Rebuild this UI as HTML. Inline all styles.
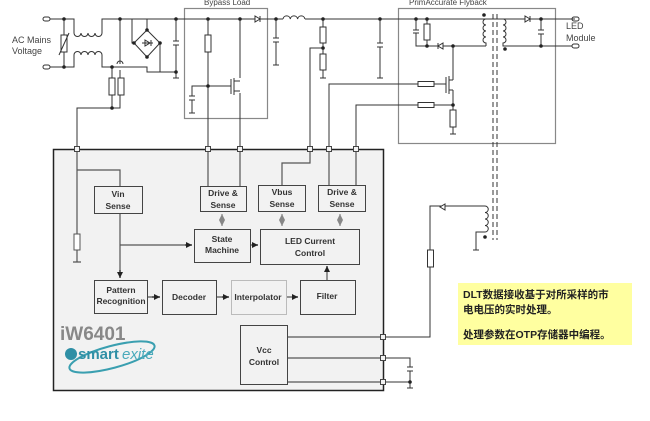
<!DOCTYPE html>
<html><head><meta charset="utf-8"><style>
html,body{margin:0;padding:0;background:#fff}
svg{display:block}
text{font-family:"Liberation Sans","Noto Sans CJK SC",sans-serif}
</style></head><body>
<svg width="650" height="421" viewBox="0 0 650 421" xmlns="http://www.w3.org/2000/svg">
<defs>
<marker id="a" markerWidth="6" markerHeight="6" refX="5" refY="3" orient="auto"><path d="M0,0.5 L5,3 L0,5.5z" fill="#222"/></marker>
<marker id="g" markerWidth="6" markerHeight="6" refX="5" refY="3" orient="auto"><path d="M0,0.5 L5,3 L0,5.5z" fill="#888"/></marker>
<marker id="gs" markerWidth="6" markerHeight="6" refX="1" refY="3" orient="auto"><path d="M6,0.5 L1,3 L6,5.5z" fill="#888"/></marker>
</defs>
<g fill="none" stroke="#333" stroke-width="1">
<rect x="184.5" y="8.5" width="83" height="110" stroke="#888" stroke-width="1.2"/>
<rect x="398.5" y="8.5" width="157" height="135" stroke="#888" stroke-width="1.2"/>
<path d="M50,19H74V33M102,33V19H176M50,67H74V55M102,55V67H147V72H176"/>
<path d="M64,19V67"/>
<rect x="61" y="35" width="6" height="17" fill="#fff"/>
<path d="M59,55L69,33"/>
<path d="M74,33a3.5,3.5 0 0 0 7,0a3.5,3.5 0 0 0 7,0a3.5,3.5 0 0 0 7,0a3.5,3.5 0 0 0 7,0"/>
<path d="M74,55a3.5,3.5 0 0 1 7,0a3.5,3.5 0 0 1 7,0a3.5,3.5 0 0 1 7,0a3.5,3.5 0 0 1 7,0"/>
<rect x="43" y="17" width="7" height="4" rx="2"/>
<rect x="43" y="65" width="7" height="4" rx="2"/>
<path d="M112,67V108H77V149M120,19V64M120,70V108H112"/>
<path d="M117,64a3,3 0 0 1 6,0" />
<rect x="109" y="78" width="6" height="17" fill="#fff"/>
<rect x="118" y="78" width="6" height="17" fill="#fff"/>
<path d="M147,19V30L160,43L147,57L134,43L147,30M132,19V43H134M160,43V72"/>
<path d="M142,43H153M145,40L150,43L145,46zM151,40V46"/>
<path d="M176,19V41M173,41H179M173,45H179M176,45V78M173,78H179"/>
<path d="M147,19H283M305,19H575"/>
<path d="M208,19V149M240,19V78M240,93V149M208,86H231M208,86H192V96M192,100V113M189,113H195M189,96H195M189,100H195"/>
<rect x="205" y="35" width="6" height="17" fill="#fff"/>
<path d="M231,79V94M234,78V95M234,81H240M234,91H240"/>
<path d="M255,16V22L260,19Z M260,16V22" fill="#fff"/>
<path d="M276,19V38M273,38H279M273,42H279M276,42V65M273,65H279"/>
<path d="M283,19a3.7,3.7 0 0 1 7.3,0a3.7,3.7 0 0 1 7.3,0a3.7,3.7 0 0 1 7.3,0" />
<path d="M323,19V78M320,78H326M323,48H310V149"/>
<rect x="320" y="27" width="6" height="16" fill="#fff"/>
<rect x="320" y="54" width="6" height="16" fill="#fff"/>
<path d="M380,19V43M377,43H383M377,47H383M380,47V78M377,78H383"/>
<path d="M416,19V30M413,30H419M413,33H419M416,33V46H486M427,19V46"/>
<rect x="424" y="24" width="6" height="16" fill="#fff"/>
<path d="M443,43V49L438,46Z M438,43V49" fill="#fff"/>
<path d="M453,46V80M453,90V134M450,134H456M446,77V93M449,76V94M449,80H453M449,90H453"/>
<rect x="450" y="110" width="6" height="17" fill="#fff"/>
<path d="M329,149V84H418M434,84H446M356,149V105H418M434,105H453"/>
<rect x="418" y="81.5" width="16" height="5" fill="#fff"/>
<rect x="418" y="102.5" width="16" height="5" fill="#fff"/>
<path d="M486,19a3,3 0 0 0 0,6a3,3 0 0 0 0,6a3,3 0 0 0 0,6a3,3 0 0 0 0,6V46"/>
<path d="M480,19H486"/>
<path d="M493,14V240M497,14V240" stroke-dasharray="5,3"/>
<path d="M503,19a3,3 0 0 1 0,6a3,3 0 0 1 0,6a3,3 0 0 1 0,6a3,3 0 0 1 0,6V46H572M503,19H572"/>
<path d="M525,16V22L530,19Z M530,16V22" fill="#fff"/>
<path d="M541,19V30M538,30H544M538,34H544M541,34V46"/>
<rect x="572" y="17" width="7" height="4" rx="2"/>
<rect x="572" y="44" width="7" height="4" rx="2"/>
<path d="M485,206H430V337H383"/>
<path d="M485,206a3,3 0 0 1 0,6.5a3,3 0 0 1 0,6.5a3,3 0 0 1 0,6.5a3,3 0 0 1 0,6.5H476V250M473,250H479"/>
<path d="M445,204V210L440,207Z M445,204V210" fill="#fff"/>
<rect x="427.5" y="250" width="6" height="17" fill="#fff"/>
<path d="M383,358H410V367M407,367H413M407,371H413M410,371V388M407,388H413M383,382H410"/>
</g>
<g fill="#222">
<circle cx="64" cy="19" r="1.8"/><circle cx="64" cy="67" r="1.8"/><circle cx="120" cy="19" r="1.8"/><circle cx="112" cy="67" r="1.8"/><circle cx="112" cy="108" r="1.8"/>
<circle cx="147" cy="30" r="1.8"/><circle cx="147" cy="57" r="1.8"/><circle cx="134" cy="43" r="1.8"/><circle cx="160" cy="43" r="1.8"/><circle cx="176" cy="19" r="1.8"/><circle cx="176" cy="72" r="1.8"/>
<circle cx="208" cy="19" r="1.8"/><circle cx="240" cy="19" r="1.8"/><circle cx="208" cy="86" r="1.8"/><circle cx="276" cy="19" r="1.8"/><circle cx="323" cy="19" r="1.8"/><circle cx="323" cy="48" r="1.8"/><circle cx="380" cy="19" r="1.8"/>
<circle cx="416" cy="19" r="1.8"/><circle cx="427" cy="19" r="1.8"/><circle cx="427" cy="46" r="1.8"/><circle cx="453" cy="46" r="1.8"/><circle cx="453" cy="105" r="1.8"/><circle cx="484" cy="15" r="1.8"/><circle cx="505" cy="49" r="1.8"/><circle cx="541" cy="19" r="1.8"/><circle cx="541" cy="46" r="1.8"/>
<circle cx="485" cy="237" r="1.8"/><circle cx="410" cy="382" r="1.8"/><circle cx="77" cy="170" r="1.8"/>
</g>
<text x="12" y="43" font-size="9" fill="#444">AC Mains</text>
<text x="12" y="54" font-size="9" fill="#444">Voltage</text>
<text x="204" y="5" font-size="8" fill="#444">Bypass Load</text>
<text x="409" y="5" font-size="8" fill="#444">PrimAccurate  Flyback</text>
<text x="566" y="29" font-size="9" fill="#444">LED</text>
<text x="566" y="41" font-size="9" fill="#444">Module</text>
<rect x="53.5" y="149.5" width="330" height="241" fill="#f2f2f2" stroke="#222" stroke-width="1.5"/>
<g fill="none" stroke="#555" stroke-width="1.2">
<path d="M77,149V234M77,250V262M73,262H81M77,170H120V186M120,213V278M120,245H192"/>
<path d="M208,149V186M240,149V186M310,149V163H282V185M329,149V185M356,149V185"/>
<path d="M250,245H258M147,297H160M216,297H229M286,297H298M327,280V266"/>
<path d="M287,337H383M287,358H383M287,382H383"/>
</g>
<g stroke="#222" stroke-width="1.2" fill="none">
<path d="M120,270V278" marker-end="url(#a)"/><path d="M185,245H192" marker-end="url(#a)"/><path d="M252,245H258" marker-end="url(#a)"/>
<path d="M152,297H160" marker-end="url(#a)"/><path d="M222,297H229" marker-end="url(#a)"/><path d="M292,297H298" marker-end="url(#a)"/><path d="M327,272V266" marker-end="url(#a)"/>
</g>
<g stroke="#888" stroke-width="1.2">
<path d="M222,214V226" marker-start="url(#gs)" marker-end="url(#g)"/>
<path d="M282,214V226" marker-start="url(#gs)" marker-end="url(#g)"/>
<path d="M340,214V226" marker-start="url(#gs)" marker-end="url(#g)"/>
</g>
<rect x="74" y="234" width="6" height="16" fill="#fff" stroke="#555"/>
<g fill="#f2f2f2" stroke="#444" stroke-width="1">
<rect x="94.5" y="186.5" width="48" height="27"/>
<rect x="200.5" y="186.5" width="46" height="25"/>
<rect x="258.5" y="185.5" width="47" height="26"/>
<rect x="318.5" y="185.5" width="47" height="26"/>
<rect x="194.5" y="229.5" width="56" height="33"/>
<rect x="260.5" y="229.5" width="99" height="35"/>
<rect x="94.5" y="280.5" width="53" height="33"/>
<rect x="162.5" y="280.5" width="54" height="34"/>
<rect x="231.5" y="280.5" width="55" height="34" stroke="#bbb"/>
<rect x="300.5" y="280.5" width="55" height="34"/>
<rect x="240.5" y="325.5" width="47" height="59"/>
</g>
<g fill="#f2f2f2" stroke="#444">
<rect x="74.5" y="146.5" width="5" height="5"/><rect x="205.5" y="146.5" width="5" height="5"/><rect x="237.5" y="146.5" width="5" height="5"/><rect x="307.5" y="146.5" width="5" height="5"/><rect x="326.5" y="146.5" width="5" height="5"/><rect x="353.5" y="146.5" width="5" height="5"/>
<rect x="380.5" y="334.5" width="5" height="5"/><rect x="380.5" y="355.5" width="5" height="5"/><rect x="380.5" y="379.5" width="5" height="5"/>
</g>
<g font-size="8.5" font-weight="bold" fill="#333" text-anchor="middle">
<text x="118" y="197">Vin</text><text x="118" y="209">Sense</text>
<text x="223" y="196">Drive &amp;</text><text x="223" y="208">Sense</text>
<text x="282" y="195">Vbus</text><text x="282" y="207">Sense</text>
<text x="342" y="195">Drive &amp;</text><text x="342" y="207">Sense</text>
<text x="222" y="242">State</text><text x="222" y="253">Machine</text>
<text x="310" y="244">LED Current</text><text x="310" y="256">Control</text>
<text x="121" y="293">Pattern</text><text x="121" y="304">Recognition</text>
<text x="189" y="300">Decoder</text>
<text x="258" y="300">Interpolator</text>
<text x="327" y="299">Filter</text>
<text x="264" y="353">Vcc</text><text x="264" y="365">Control</text>
</g>
<text x="60" y="340" font-size="19" font-weight="bold" fill="#888">iW6401</text>
<ellipse cx="112" cy="357" rx="44" ry="11" fill="none" stroke="#3a9fb0" stroke-width="2" transform="rotate(-15 112 357)"/>
<circle cx="71" cy="354" r="6" fill="#2f8fa5"/>
<text x="78" y="359" font-size="15" font-weight="bold" fill="#2f8fa5">smart</text>
<text x="122" y="359" font-size="15" font-style="italic" fill="#4aaabb">exite</text>
<rect x="458" y="283" width="174" height="62" fill="#ffffa0"/>
<g font-size="10.5" font-weight="bold" fill="#222">
<text x="463" y="298">DLT数据接收基于对所采样的市</text>
<text x="463" y="313">电电压的实时处理。</text>
<text x="463" y="338">处理参数在OTP存储器中编程。</text>
</g>
</svg>
</body></html>
